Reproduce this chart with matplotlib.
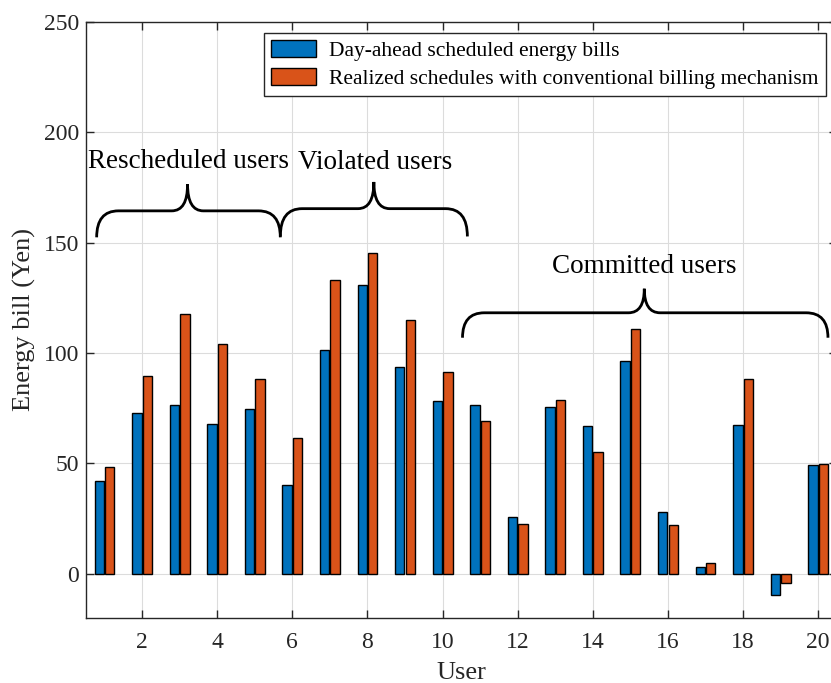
#!/usr/bin/env python

import matplotlib

matplotlib.use("Agg")
import matplotlib.pyplot as plt
import numpy as np
from matplotlib.patches import PathPatch
from matplotlib.path import Path

users = np.arange(1, 21)
day_ahead = [41.9, 72.9, 76.4, 67.6, 74.4, 40.2, 101.5, 131.0, 93.5, 78.0,
             76.5, 25.5, 75.5, 67.0, 96.5, 27.7, 3.0, 67.2, -9.7, 49.0]
realized = [48.1, 89.5, 117.5, 103.9, 88.0, 61.3, 133.0, 145.3, 115.0, 91.5,
            69.0, 22.5, 78.5, 55.0, 111.0, 21.8, 4.7, 88.0, -4.2, 49.8]
series_labels = ["Day-ahead scheduled energy bills",
                 "Realized schedules with conventional billing mechanism"]

# brace groups: (x start, x end, x cusp, y tip, y flat, y cusp)
braces = [
    (0.79, 5.68, 3.21, 152.4, 164.4, 176.4),
    (5.68, 10.66, 8.17, 152.8, 165.4, 177.5),
    (10.53, 20.26, 15.37, 106.9, 118.2, 129.1),
]
brace_labels = [
    ("Rescheduled users", 0.55, 183.7),
    ("Violated users", 6.16, 183.2),
    ("Committed users", 12.91, 136.4),
]

BLUE = "#0072BD"
ORANGE = "#D95319"
AX_COLOR = "#262626"


def brace_path(x0, x1, xc, yt, yf, yc, r=0.58, rc=0.42):
    verts = [
        (x0, yt), (x0, yf), (x0 + r, yf),
        (xc - rc, yf),
        (xc, yf), (xc, yc),
        (xc, yf), (xc + rc, yf),
        (x1 - r, yf),
        (x1, yf), (x1, yt),
    ]
    codes = [
        Path.MOVETO, Path.CURVE3, Path.CURVE3,
        Path.LINETO,
        Path.CURVE3, Path.CURVE3,
        Path.CURVE3, Path.CURVE3,
        Path.LINETO,
        Path.CURVE3, Path.CURVE3,
    ]
    return Path(verts, codes)


plt.rcParams["font.family"] = ["Liberation Serif", "DejaVu Serif"]

fig = plt.figure(figsize=(8.31, 6.83), dpi=100)
ax = fig.add_axes([0.1032, 0.0956, 0.904, 0.8722])

w = 0.25
off = 0.14
ax.bar(users - off, day_ahead, width=w, color=BLUE, edgecolor="black",
       linewidth=1.0, label=series_labels[0], zorder=3)
ax.bar(users + off, realized, width=w, color=ORANGE, edgecolor="black",
       linewidth=1.0, label=series_labels[1], zorder=3)

for b in braces:
    ax.add_patch(PathPatch(brace_path(*b), facecolor="none", edgecolor="black",
                           linewidth=2.0, zorder=4))
for text, x, y in brace_labels:
    ax.text(x, y, text, fontsize=19.5, ha="left", va="baseline", zorder=5)

ax.set_xlim(0.5, 20.5)
ax.set_ylim(-20, 250)
ax.set_xticks(np.arange(2, 21, 2))
ax.set_yticks(np.arange(0, 251, 50))
ax.grid(True, color="#dcdcdc", linewidth=0.8, zorder=0)
ax.set_axisbelow(True)
ax.tick_params(direction="in", length=6, width=1, colors=AX_COLOR,
               labelsize=17, top=True, right=True, pad=10)
ax.tick_params(axis="y", pad=5)
for s in ax.spines.values():
    s.set_color(AX_COLOR)
    s.set_linewidth(1.0)

ax.set_xlabel("User", fontsize=19, color=AX_COLOR, labelpad=7)
ax.set_ylabel("Energy bill (Yen)", fontsize=19, color=AX_COLOR, labelpad=5)

leg = ax.legend(loc="upper right", fontsize=15.5, frameon=True, fancybox=False,
                edgecolor=AX_COLOR, framealpha=1, borderaxespad=0.5,
                handlelength=2.1, handleheight=0.85, handletextpad=0.6,
                labelspacing=0.3, borderpad=0.35)
leg.get_frame().set_linewidth(1.0)

fig.savefig("out.png", dpi=100)
